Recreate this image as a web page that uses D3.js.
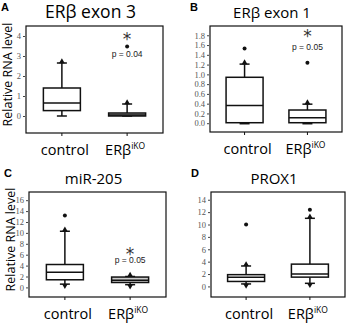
<!DOCTYPE html>
<html>
<head>
<meta charset="utf-8">
<script src="https://cdn.jsdelivr.net/npm/d3@7"></script>
<style>
  body { margin: 0; background: #fff; }
  svg { display: block; }
  .tick text { font-family: "Liberation Serif", serif; fill: #555; }
  .tick line { stroke: #444; }
  .domain { display: none; }
</style>
</head>
<body>
<div id="chart"></div>
<script>
var width = 350, height = 323;

var categories = ["control", "ERβ"];

// box stats: [whisker low, q1, median, q3, whisker high]
var exon3Control = [0, 0.27, 0.65, 1.4, 2.65];
var exon3Ko = [0, 0, 0.05, 0.15, 0.6];
var exon3Outliers = [[], [3.47]];
var exon3Ticks = [0, 1, 2, 3, 4];

var exon1Control = [0, 0.01, 0.36, 0.94, 1.21];
var exon1Ko = [0, 0.01, 0.11, 0.27, 0.39];
var exon1Outliers = [[1.53], [1.24]];
var exon1Ticks = [0, 0.2, 0.4, 0.6, 0.8, 1.0, 1.2, 1.4, 1.6, 1.8];

var mirControl = [0.6, 1.4, 2.8, 4.2, 10.3];
var mirKo = [0.5, 0.9, 1.3, 1.9, 2.0];
var mirOutliers = [[13.2], []];
var mirTicks = [0, 2, 4, 6, 8, 10, 12, 14, 16];

var proxControl = [0.4, 0.8, 1.5, 1.9, 3.3];
var proxKo = [0.5, 1.5, 2.0, 3.6, 11.0];
var proxOutliers = [[10.0], [12.4]];
var proxTicks = [0, 2, 4, 6, 8, 10, 12, 14];

var panels = [
  {letter: "A", title: "ERβ exon 3", titleSize: 17.5, stats: [exon3Control, exon3Ko], outliers: exon3Outliers,
   ticks: exon3Ticks, fmt: d3.format("d"), domain: [-0.85, 4.5], p: "p = 0.04", star: 3.9, pAt: 2.95,
   frame: {x0: 26, x1: 163, y0: 26, y1: 133}, ylabel: true, fills: ["#fff", "#bbb"], lowMark: [false, false]},
  {letter: "B", title: "ERβ exon 1", titleSize: 15, stats: [exon1Control, exon1Ko], outliers: exon1Outliers,
   ticks: exon1Ticks, fmt: d3.format(".1f"), domain: [-0.18, 1.99], p: "p = 0.05", star: 1.8, pAt: 1.5,
   frame: {x0: 210, x1: 342, y0: 26, y1: 132}, ylabel: false, fills: ["#fff", "#fff"], lowMark: [false, false]},
  {letter: "C", title: "miR-205", titleSize: 15, stats: [mirControl, mirKo], outliers: mirOutliers,
   ticks: mirTicks, fmt: d3.format("d"), domain: [-1.76, 17.5], p: "p = 0.05", star: 6.4, pAt: 4.5,
   frame: {x0: 29, x1: 166, y0: 192, y1: 297}, ylabel: true, fills: ["#fff", "#ccc"], lowMark: [true, true]},
  {letter: "D", title: "PROX1", titleSize: 15, stats: [proxControl, proxKo], outliers: proxOutliers,
   ticks: proxTicks, fmt: d3.format("d"), domain: [-1.71, 15.25], p: null,
   frame: {x0: 211, x1: 345, y0: 192, y1: 297}, ylabel: false, fills: ["#fff", "#fff"], lowMark: [true, true]}
];

var svg = d3.select("#chart").append("svg")
    .attr("width", width)
    .attr("height", height);

var tri = d3.symbol().type(d3.symbolTriangle).size(14);

panels.forEach(function(p) {
  var f = p.frame;
  var g = svg.append("g");

  var x = d3.scalePoint().domain(categories).range([f.x0, f.x1]).padding(0.55);
  var y = d3.scaleLinear().domain(p.domain).range([f.y1, f.y0]);
  var bw = 37;

  // panel letter
  g.append("text")
      .attr("x", f.x0 - (p.ylabel ? 25 : 20))
      .attr("y", f.y0 - 15)
      .attr("font-family", "Liberation Sans, sans-serif")
      .attr("font-weight", "bold")
      .attr("font-size", 11)
      .text(p.letter);

  // title
  g.append("text")
      .attr("x", (f.x0 + f.x1) / 2 - 4)
      .attr("y", f.y0 - 8)
      .attr("text-anchor", "middle")
      .attr("font-family", "Open Sans, sans-serif")
      .attr("font-size", p.titleSize)
      .text(p.title);

  // frame
  g.append("rect")
      .attr("x", f.x0).attr("y", f.y0)
      .attr("width", f.x1 - f.x0).attr("height", f.y1 - f.y0)
      .attr("fill", "none").attr("stroke", "#111").attr("stroke-width", 1.2);

  g.append("g")
      .attr("transform", "translate(" + (f.x0 - 1) + ",0)")
      .call(d3.axisLeft(y).tickValues(p.ticks).tickFormat(p.fmt).tickSize(2).tickPadding(2))
      .selectAll("text").attr("font-size", 8.5);

  // bottom tick marks
  g.selectAll(".xt").data(categories).enter().append("line")
      .attr("x1", function(d) { return x(d); }).attr("x2", function(d) { return x(d); })
      .attr("y1", f.y1).attr("y2", f.y1 + 3)
      .attr("stroke", "#111");

  if (p.ylabel) {
    g.append("text")
        .attr("transform", "translate(" + (f.x0 - 14) + "," + ((f.y0 + f.y1) / 2 - 5) + ") rotate(-90)")
        .attr("text-anchor", "middle")
        .attr("font-family", "Open Sans, sans-serif")
        .attr("font-size", 12.5)
        .text("Relative RNA level");
  }

  // category labels
  var lab = g.selectAll(".cat").data(categories).enter().append("text")
      .attr("x", function(d, i) { return x(d) + (i === 0 ? 3 : -2); })
      .attr("y", f.y1 + 22)
      .attr("text-anchor", "middle")
      .attr("font-family", "Open Sans, sans-serif")
      .attr("font-size", 14.5);
  lab.append("tspan").text(function(d) { return d; });
  lab.filter(function(d, i) { return i === 1; }).append("tspan")
      .attr("font-size", 8.5).attr("dy", -6).text("iKO");

  // boxes
  p.stats.forEach(function(s, i) {
    var cx = x(categories[i]);
    var bg = g.append("g").attr("stroke", "#111").attr("stroke-width", 1.5);
    bg.append("line").attr("x1", cx).attr("x2", cx).attr("y1", y(s[3])).attr("y2", y(s[4]));
    bg.append("line").attr("x1", cx).attr("x2", cx).attr("y1", y(s[1])).attr("y2", y(s[0]));
    bg.append("line").attr("x1", cx - 5).attr("x2", cx + 5).attr("y1", y(s[4])).attr("y2", y(s[4]));
    bg.append("line").attr("x1", cx - 5).attr("x2", cx + 5).attr("y1", y(s[0])).attr("y2", y(s[0]))
        .attr("stroke-width", p.letter === "B" ? 2.5 : 1.5);
    bg.append("rect")
        .attr("x", cx - bw / 2).attr("width", bw)
        .attr("y", y(s[3])).attr("height", Math.max(y(s[1]) - y(s[3]), 1))
        .attr("fill", p.fills[i]);
    bg.append("line").attr("x1", cx - bw / 2).attr("x2", cx + bw / 2)
        .attr("y1", y(s[2])).attr("y2", y(s[2]));
    g.append("path").attr("d", tri)
        .attr("transform", "translate(" + cx + "," + (y(s[4]) - 1.5) + ")")
        .attr("fill", "#111");
    if (p.lowMark[i]) {
      g.append("path").attr("d", tri)
          .attr("transform", "translate(" + cx + "," + (y(s[0]) + 1.5) + ") rotate(180)")
          .attr("fill", "#111");
    }
    g.selectAll(null).data(p.outliers[i]).enter().append("circle")
        .attr("cx", cx).attr("cy", function(d) { return y(d); })
        .attr("r", 2).attr("fill", "#111");
  });

  if (p.p) {
    var kx = x(categories[1]);
    g.append("text")
        .attr("x", kx).attr("y", y(p.star) + 7)
        .attr("text-anchor", "middle")
        .attr("font-family", "DejaVu Sans, sans-serif")
        .attr("font-size", 17).attr("fill", "#333")
        .text("*");
    g.append("text")
        .attr("x", kx).attr("y", y(p.pAt))
        .attr("text-anchor", "middle")
        .attr("font-family", "Liberation Sans, sans-serif")
        .attr("font-size", 8.5).attr("fill", "#222")
        .text(p.p);
  }
});
</script>
</body>
</html>
